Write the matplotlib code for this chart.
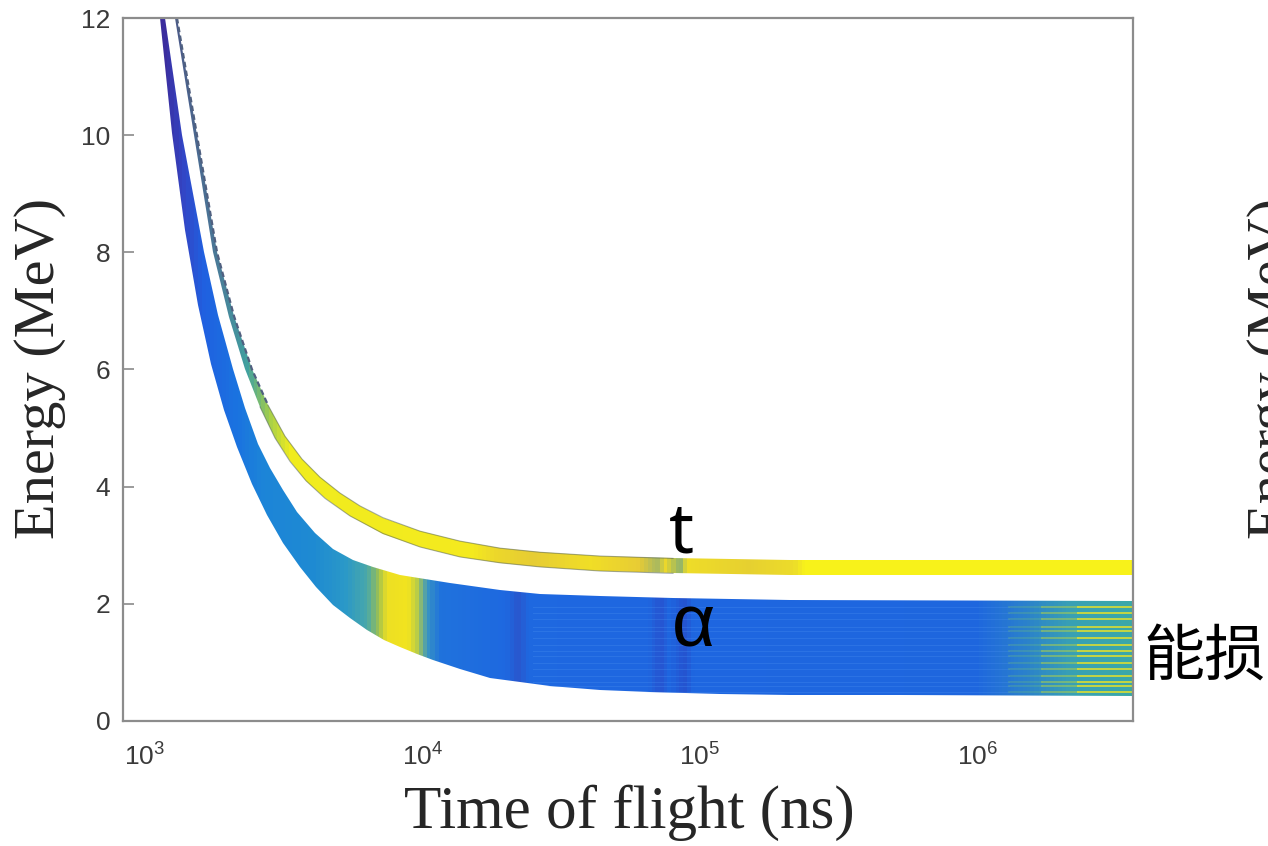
import numpy as np
import matplotlib.pyplot as plt
from matplotlib.colors import LinearSegmentedColormap
from matplotlib.patches import Polygon

plt.rcParams['font.family'] = ['Liberation Sans', 'DejaVu Sans']
plt.rcParams['mathtext.fontset'] = 'custom'
plt.rcParams['mathtext.rm'] = 'Liberation Sans'

# time-of-flight axis range (ns)
tof_min, tof_max = 833, 3.63e6

# alpha band: lower and upper envelope (ns, MeV)
alpha_lo_tof = [1133, 1251, 1394, 1552, 1729, 1926, 2145, 2430, 2752, 3144, 3620, 4133, 4759, 5480,
                6310, 7264, 8297, 9555, 10910, 13650, 17510, 22460, 28810, 43600, 66040, 118100,
                211000, 525800, 3.63e6]
alpha_lo_e = [12.0, 10.03, 8.38, 7.10, 6.10, 5.31, 4.67, 4.05, 3.52, 3.04, 2.62, 2.28, 1.98, 1.75,
              1.55, 1.39, 1.26, 1.14, 1.04, 0.88, 0.74, 0.66, 0.59, 0.53, 0.49, 0.46, 0.445, 0.435, 0.43]
alpha_hi_tof = [1181, 1359, 1632, 1833, 2075, 2293, 2553, 2821, 3144, 3530, 4098, 4759, 5617, 6632,
                8297, 12560, 19020, 26500, 43600, 79900, 211000, 3.63e6]
alpha_hi_e = [12.0, 10.0, 8.0, 6.93, 6.0, 5.35, 4.72, 4.32, 3.94, 3.57, 3.21, 2.93, 2.75, 2.62,
              2.50, 2.35, 2.24, 2.17, 2.13, 2.10, 2.07, 2.05]

# triton band: lower and upper envelope (ns, MeV)
triton_lo_tof = [1283, 1502, 1758, 2008, 2293, 2597, 2941, 3331, 3804, 4454, 5480, 7206, 9795,
                 13650, 19020, 26500, 43600, 79900, 211000, 3.63e6]
triton_lo_e = [12.0, 10.0, 8.0, 6.89, 6.0, 5.36, 4.83, 4.43, 4.10, 3.80, 3.50, 3.20, 2.97, 2.80,
               2.70, 2.63, 2.56, 2.52, 2.50, 2.49]
triton_hi_tof = [1304, 1539, 1818, 2093, 2430, 2775, 3195, 3680, 4272, 5043, 5955, 7206, 9795,
                 13650, 19020, 26500, 43600, 79900, 211000, 3.63e6]
triton_hi_e = [12.0, 10.0, 8.0, 6.91, 6.0, 5.39, 4.86, 4.47, 4.16, 3.89, 3.67, 3.47, 3.24, 3.07,
               2.95, 2.88, 2.815, 2.775, 2.75, 2.74]

# colour along the alpha band
alpha_col_tof = [833, 1150, 1350, 1600, 2100, 2600, 4000, 5200, 6300, 6900, 7400, 8800, 9500, 10300,
                 11500, 20000, 22000, 24000, 65000, 72000, 78000, 88000, 95000, 1.0e6, 1.5e6, 2.2e6, 3.63e6]
alpha_col = ['#3b2c9c', '#3b2c9c', '#3344c4', '#2060e0', '#1a72e0', '#1c84d8', '#1e8ad2', '#2a98c8',
             '#4aa8a8', '#9ec050', '#ecdf24', '#f2e41e', '#b8cc48', '#3a96c0', '#1f72dc', '#1e68e0',
             '#2a55cc', '#1e68e0', '#1e66e0', '#2654d0', '#1e66e0', '#2452cf', '#1e66e0', '#1e66de',
             '#2a80cc', '#38a0b4', '#3aa8a8']

# colour along the triton band
triton_col_tof = [833, 1300, 1800, 2300, 2800, 3300, 15000, 18000, 25000, 40000, 60000, 70000, 75000,
                  85000, 90000, 150000, 220000, 240000, 3.63e6]
triton_col = ['#4a5a8a', '#4a5a8a', '#4a7a98', '#40a0a0', '#a8d048', '#f0ec1e', '#f4ea1e', '#ecd82a',
              '#e6cc34', '#f0de26', '#e8cc34', '#a8b860', '#ecd82a', '#8ab070', '#eedc28', '#e6d030',
              '#ecdc2a', '#f8f21a', '#f8f21a']

# energies of the individual tracks inside the alpha band at long flight times
streak_e = [1.95, 1.84, 1.74, 1.61, 1.53, 1.42, 1.30, 1.19, 1.11, 0.99, 0.89, 0.77, 0.67, 0.59, 0.50]

lt0, lt1 = np.log10(tof_min), np.log10(tof_max)


def make_cmap(name, tofs, colors):
    pos = (np.log10(tofs) - lt0) / (lt1 - lt0)
    pos = np.clip(pos, 0, 1)
    pos[0], pos[-1] = 0.0, 1.0
    return LinearSegmentedColormap.from_list(name, list(zip(pos, colors)))


def draw_band(ax, lo_t, lo_e, hi_t, hi_e, cmap):
    verts = np.column_stack([np.r_[lo_t, hi_t[::-1]], np.r_[lo_e, hi_e[::-1]]])
    poly = Polygon(verts, closed=True, facecolor='none', edgecolor='none')
    ax.add_patch(poly)
    t_edges = np.logspace(lt0, lt1, 1200)
    e_edges = np.array([0.0, 12.5])
    c = np.log10(np.sqrt(t_edges[:-1] * t_edges[1:]))[None, :]
    mesh = ax.pcolormesh(t_edges, e_edges, c, cmap=cmap, vmin=lt0, vmax=lt1, shading='flat')
    mesh.set_clip_path(poly)
    return poly


fig = plt.figure(figsize=(12.68, 8.46), dpi=100)
ax = fig.add_axes([0.0970, 0.1478, 0.7965, 0.8309])

alpha_poly = draw_band(ax, alpha_lo_tof, alpha_lo_e, alpha_hi_tof, alpha_hi_e,
                       make_cmap('alpha_band', alpha_col_tof, alpha_col))
draw_band(ax, triton_lo_tof, triton_lo_e, triton_hi_tof, triton_hi_e,
          make_cmap('triton_band', triton_col_tof, triton_col))

# dashed upper edge of the triton band and its thin outlines
ax.plot(triton_hi_tof[:6], triton_hi_e[:6], color='#506080', lw=1.6, ls=(0, (2.5, 1.5)))
ax.plot(triton_hi_tof[5:-2], triton_hi_e[5:-2], color='#4c5c58', lw=0.8, alpha=0.5)
ax.plot(triton_lo_tof[5:-2], triton_lo_e[5:-2], color='#4c5c58', lw=0.8, alpha=0.5)

for e in streak_e:
    faint, = ax.plot([2.5e4, 1.3e6], [e, e], color='#4a90f0', lw=0.8, alpha=0.3)
    faint.set_clip_path(alpha_poly)
    ax.plot([1.3e6, 1.7e6], [e, e], color='#6cbc80', lw=1.2, alpha=0.35)
    ax.plot([1.7e6, 2.3e6], [e, e], color='#a8cc50', lw=1.3, alpha=0.6)
    ax.plot([2.3e6, tof_max], [e, e], color='#dede30', lw=1.4, alpha=0.85)

ax.set_xscale('log')
ax.set_xlim(tof_min, tof_max)
ax.set_ylim(0, 12)
ax.set_yticks(range(0, 13, 2))
ax.set_xticks([1e3, 1e4, 1e5, 1e6])
ax.minorticks_off()
ax.tick_params(axis='y', direction='in', length=8, width=1.2, color='#8a8a8a',
               labelsize=19, labelcolor='#3a3a3a', pad=9)
ax.tick_params(axis='x', length=0, labelsize=19, labelcolor='#3a3a3a', pad=16)
for s in ax.spines.values():
    s.set_color('#8c8c8c')
    s.set_linewidth(1.6)

fig.text(40 / 1268, 0.564, 'Energy (MeV)', rotation=90, family='Liberation Serif',
         fontsize=42, ha='center', va='center', color='#262626')
fig.text(1273 / 1268, 0.564, 'Energy (MeV)', rotation=90, family='Liberation Serif',
         fontsize=42, ha='center', va='center', color='#262626')
fig.text(629 / 1268, 1 - 828 / 846, 'Time of flight (ns)', family='Liberation Serif',
         fontsize=44, ha='center', va='baseline', color='#262626')

fig.text(681 / 1268, 1 - 552 / 846, 't', family='Noto Sans', fontsize=50,
         ha='center', va='baseline', color='black')
fig.text(694 / 1268, 1 - 646 / 846, 'α', family='Liberation Sans', fontsize=54,
         ha='center', va='baseline', color='black')
fig.text(1205 / 1268, 1 - 675 / 846, '能损', family=['Noto Sans CJK SC', 'DejaVu Sans'],
         fontsize=44, ha='center', va='baseline', color='black')

fig.savefig('out.png', dpi=100)
